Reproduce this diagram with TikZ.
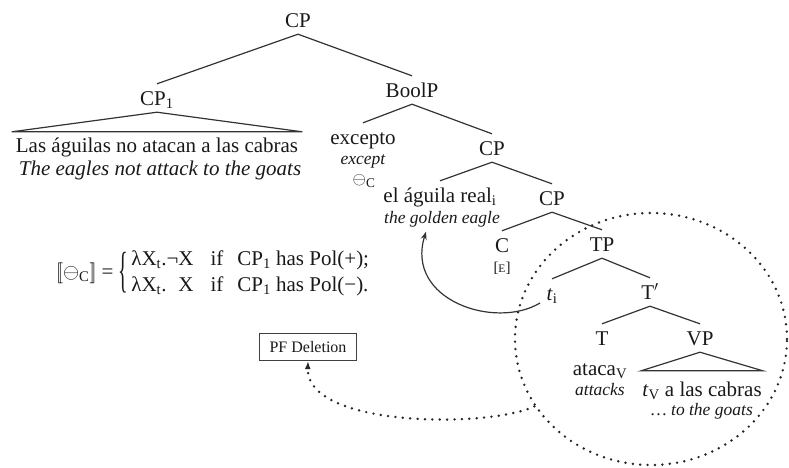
\documentclass[tikz,border=0pt]{standalone}
\usepackage{fontspec}
\usepackage{graphicx}
\setmainfont{Liberation Serif}
\usetikzlibrary{shapes.geometric,arrows.meta}

\tikzset{
  cat/.style={font=\fontsize{21}{25}\selectfont, text=black!90, text height=14pt,
    text depth=0pt, inner xsep=1pt, inner ysep=7pt},
  gloss/.style={font=\fontsize{17.5}{21}\selectfont\itshape, text=black!90,
    text height=11pt, text depth=0pt, inner xsep=1pt, inner ysep=5pt},
  bigloss/.style={cat, font=\fontsize{21}{25}\selectfont\itshape},
  branch/.style={line width=1.2pt, draw=black!80},
  dotline/.style={line width=2.7pt, dash pattern=on 0pt off 7.4pt, line cap=round, draw=black!85},
  pfbox/.style={draw=black!75, line width=1.2pt, font=\fontsize{16}{18}\selectfont,
    text=black!90, minimum width=97pt, minimum height=27pt, inner sep=2pt},
  formula/.style={font=\fontsize{21}{25}\selectfont, text=black!90, inner sep=0pt},
}
% tall, thin brace for the two-case definition
\newcommand{\casebrace}{$\vcenter{\hbox{\scalebox{0.95}[2.35]{\{}}}$}

\begin{document}
\begin{tikzpicture}[x=1pt, y=-1pt]
\useasboundingbox (0,0) rectangle (789,467);

% dotted region around the deleted constituent
\node[ellipse, dotline, minimum width=272pt, minimum height=252pt, inner sep=0pt] (ell) at (651,339) {};

% tree labels
\node[cat] (cp0) at (298,20) {CP};
\node[cat] (cp1) at (157,98) {CP\textsubscript{1}};
\node[cat, inner xsep=4pt, inner ysep=6pt] (sp) at (157,145) {Las águilas no atacan a las cabras};
\node[bigloss] (en) at (160,168) {The eagles not attack to the goats};

\node[cat] (boolp) at (412,90) {BoolP};
\node[cat] (excepto) at (363,137) {excepto};
\node[gloss] (except) at (363,159) {except};
\node[font=\fontsize{19}{20}\selectfont, text=black!90, inner sep=0pt] (theta) at (364,181) {$\ominus$\textsubscript{C}};

\node[cat] (cp2) at (492,148) {CP};
\node[cat] (real) at (440,195) {el águila real\textsubscript{i}};
\node[gloss] (golden) at (442,218) {the golden eagle};

\node[cat] (cp3) at (552,198) {CP};
\node[cat] (c) at (502,245) {C};
\node[font=\fontsize{15}{16}\selectfont, text=black!90, inner sep=0pt] (e) at (502,268) {[{\fontsize{11.5}{12}\selectfont E}]};
\node[cat] (tp) at (602,244) {TP};
\node[cat] (ti) at (552,293) {\textit{t}\textsubscript{i}};
\node[cat] (tbar) at (650,292) {T$'$};
\node[cat] (t) at (602,338) {T};
\node[cat] (vp) at (700,338) {VP};
\node[cat] (ataca) at (600,368) {ataca\textsubscript{V}};
\node[gloss] (attacks) at (600,390) {attacks};
\node[cat, inner xsep=1pt, inner ysep=11pt] (tv) at (702,389) {\textit{t}\textsubscript{V} a las cabras};
\node[gloss] (goats) at (702,410) {\dots\ to the goats};

% semantics of the operator
\node[formula, anchor=west] (sem) at (56,273)
  {$[\![$$\ominus$\textsubscript{C}$]\!]$ = \casebrace\begin{tabular}{@{\hspace{3pt}}l@{\hspace{17pt}}l@{\hspace{14pt}}l@{}}
    λX\textsubscript{t}.¬X & if & CP\textsubscript{1} has Pol(+);\\[1pt]
    λX\textsubscript{t}.\phantom{¬}X & if & CP\textsubscript{1} has Pol(−).
  \end{tabular}};

\node[pfbox] (pf) at (308,347) {PF Deletion};

% branches
\draw[branch] (cp0.south) -- (cp1.north);
\draw[branch] (cp0.south) -- (boolp.north);
\draw[branch] (cp1.south) -- (sp.north west) -- (sp.north east) -- cycle;
\draw[branch] (boolp.south) -- (excepto.north);
\draw[branch] (boolp.south) -- (cp2.north);
\draw[branch] (cp2.south) -- (real.north);
\draw[branch] (cp2.south) -- (cp3.north);
\draw[branch] (cp3.south) -- (c.north);
\draw[branch] (cp3.south) -- (tp.north);
\draw[branch] (tp.south) -- (ti.north);
\draw[branch] (tp.south) -- (tbar.north);
\draw[branch] (tbar.south) -- (t.north);
\draw[branch] (tbar.south) -- (vp.north);
\draw[branch] (vp.south) -- (tv.north west) -- (tv.north east) -- cycle;

% movement of the remnant
\draw[branch, -{Stealth[length=8pt,width=6pt]}]
  ([xshift=-12pt,yshift=-10pt]ti.center) .. controls (495,330) and (405,300) .. ([xshift=-16pt,yshift=-3pt]golden.south);

% deletion at PF
\draw[dotline, -{Latex[length=8pt,width=6pt]}]
  (ell.210) .. controls (490,428) and (306,428) .. (pf.south);
\end{tikzpicture}
\end{document}
